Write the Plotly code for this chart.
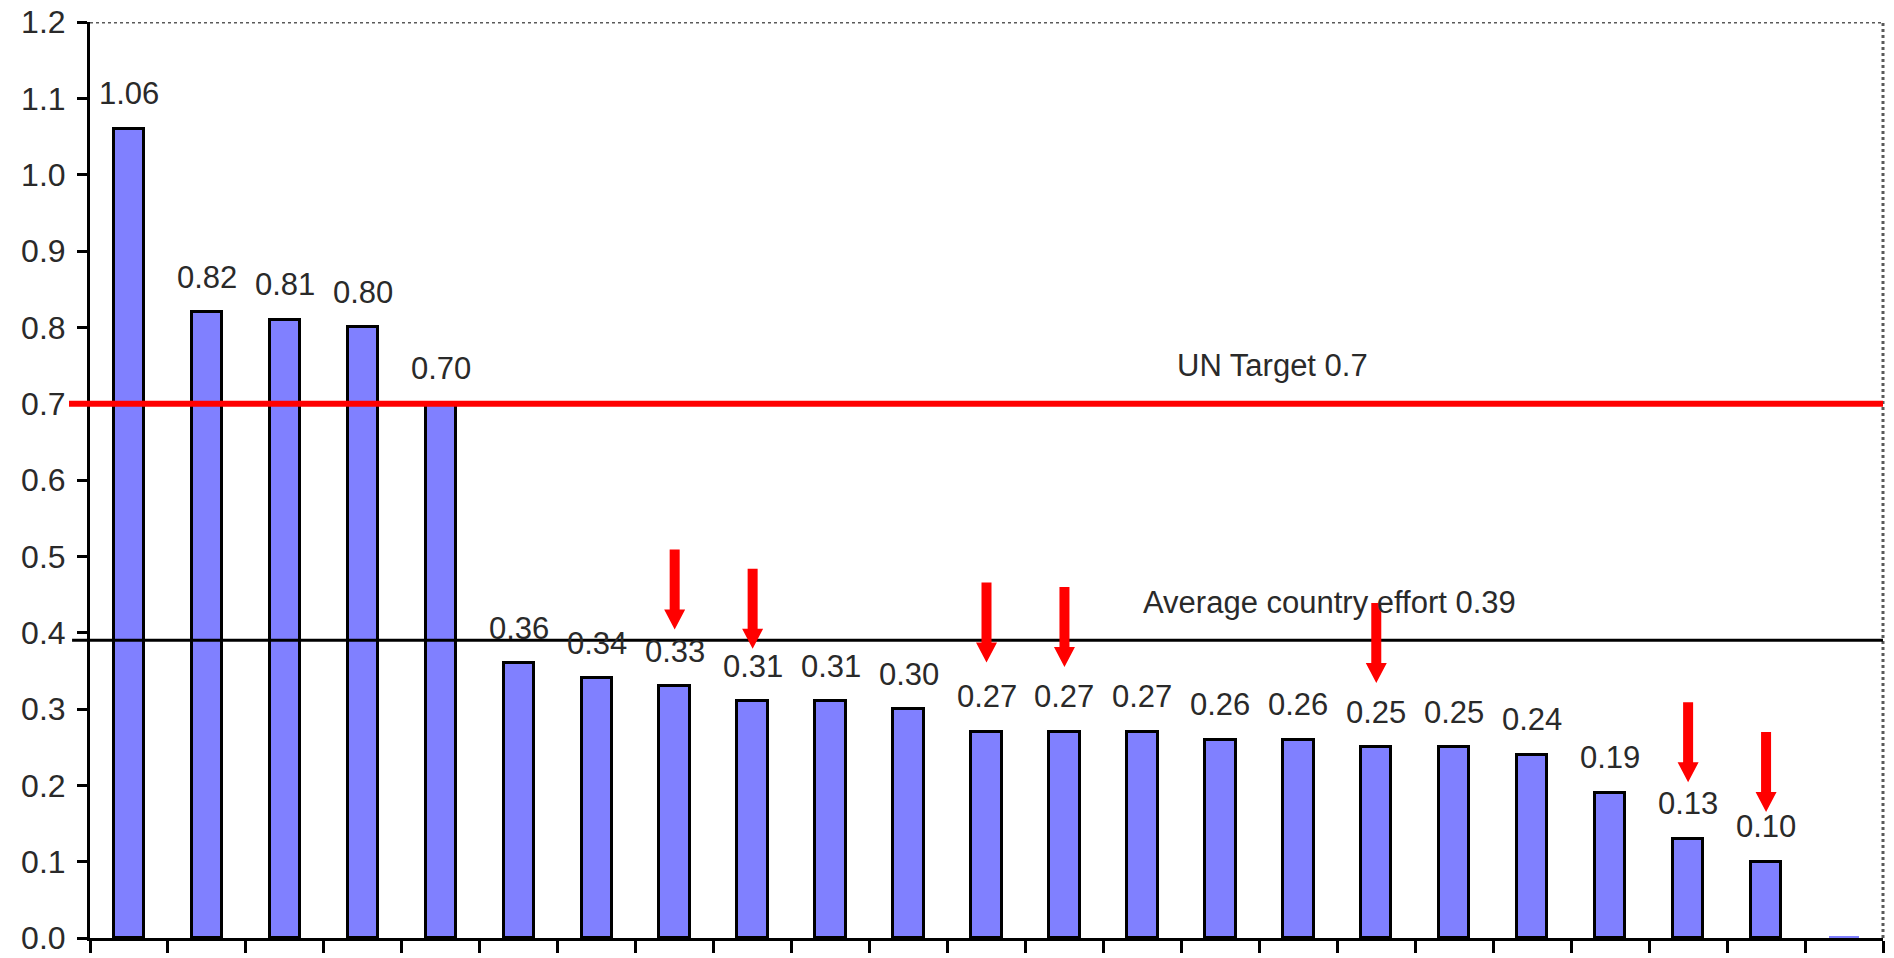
import plotly.graph_objects as go

# Aid effort per country (% of GNI), sorted from highest to lowest
values = [1.06, 0.82, 0.81, 0.80, 0.70, 0.36, 0.34, 0.33, 0.31, 0.31, 0.30,
          0.27, 0.27, 0.27, 0.26, 0.26, 0.25, 0.25, 0.24, 0.19, 0.13, 0.10, 0.002]
value_labels = ["1.06", "0.82", "0.81", "0.80", "0.70", "0.36", "0.34", "0.33",
                "0.31", "0.31", "0.30", "0.27", "0.27", "0.27", "0.26", "0.26",
                "0.25", "0.25", "0.24", "0.19", "0.13", "0.10", ""]
positions = list(range(1, len(values) + 1))

# Reference levels
un_target = 0.7
average_effort = 0.39

# Highlighted countries: bar position and the level the arrow points to
arrow_positions = [8, 9, 12, 13, 17, 21, 22]
arrow_tips = [0.404, 0.379, 0.361, 0.355, 0.334, 0.204, 0.165]

y_ticks = [round(0.1 * i, 1) for i in range(13)]

FONT = "Liberation Sans, Arial, sans-serif"
TEXT_COLOR = "#2a2a2a"

line_widths = [3 if v >= 0.01 else 0 for v in values]

fig = go.Figure()
fig.add_trace(go.Bar(
    x=positions,
    y=values,
    width=0.39,
    marker=dict(color="#8080FF", line=dict(color="black", width=line_widths)),
    hoverinfo="skip",
))

annotations = []
for x, v, lab in zip(positions, values, value_labels):
    if lab:
        annotations.append(dict(
            x=x, y=v, text=lab, showarrow=False, yshift=35,
            xanchor="center", yanchor="middle",
            font=dict(family=FONT, size=31, color=TEXT_COLOR),
        ))

annotations.append(dict(
    xref="paper", x=0.6596, y=un_target, yshift=38, text="UN Target 0.7",
    showarrow=False, xanchor="center", yanchor="middle",
    font=dict(family=FONT, size=31, color=TEXT_COLOR),
))
annotations.append(dict(
    xref="paper", x=0.6915, y=average_effort, yshift=38,
    text="Average country effort 0.39",
    showarrow=False, xanchor="center", yanchor="middle",
    font=dict(family=FONT, size=31, color=TEXT_COLOR),
))

shapes = [
    # plot frame (top and right)
    dict(type="line", xref="paper", yref="y", x0=0, x1=1, y0=1.2, y1=1.2,
         line=dict(color="#5a5a5a", width=3, dash="dot"), layer="below"),
    dict(type="line", xref="paper", yref="y", x0=1, x1=1, y0=0, y1=1.2,
         line=dict(color="#5a5a5a", width=3, dash="dot"), layer="below"),
    # UN target line
    dict(type="line", xref="paper", yref="y", x0=-0.0117, x1=1,
         y0=un_target, y1=un_target, line=dict(color="#FF0000", width=6)),
    # average effort line
    dict(type="line", xref="paper", yref="y", x0=-0.010, x1=1,
         y0=average_effort, y1=average_effort, line=dict(color="black", width=3)),
]

# Downward arrows, sized in pixels and anchored at their tip
arrow_path = "M0,0 L-10.5,20 L-5,20 L-5,80 L5,80 L5,20 L10.5,20 Z"
for ax_pos, tip in zip(arrow_positions, arrow_tips):
    shapes.append(dict(
        type="path", xref="x", yref="y",
        xsizemode="pixel", ysizemode="pixel",
        xanchor=ax_pos, yanchor=tip,
        path=arrow_path, fillcolor="#FF0000", line=dict(width=0),
    ))

fig.update_layout(
    width=1894, height=958,
    margin=dict(l=90, r=11, t=22, b=20, autoexpand=False),
    paper_bgcolor="white", plot_bgcolor="white",
    showlegend=False,
    bargap=0,
    annotations=annotations,
    shapes=shapes,
    xaxis=dict(
        range=[0.5, len(values) + 0.5],
        tickvals=[i + 0.5 for i in range(len(values) + 1)],
        showticklabels=False, automargin=False,
        ticks="outside", ticklen=12, tickwidth=3, tickcolor="black",
        showline=True, linecolor="black", linewidth=3,
        showgrid=False, zeroline=False, fixedrange=True,
    ),
    yaxis=dict(
        range=[0, 1.2], automargin=False,
        tickvals=y_ticks,
        ticktext=[f"{t:.1f}" for t in y_ticks],
        ticks="outside", ticklen=10, tickwidth=3, tickcolor="black",
        ticklabelstandoff=5,
        showline=True, linecolor="black", linewidth=3,
        showgrid=False, zeroline=False, fixedrange=True,
        tickfont=dict(family=FONT, size=32, color=TEXT_COLOR),
    ),
)

fig.write_html("out.html")
